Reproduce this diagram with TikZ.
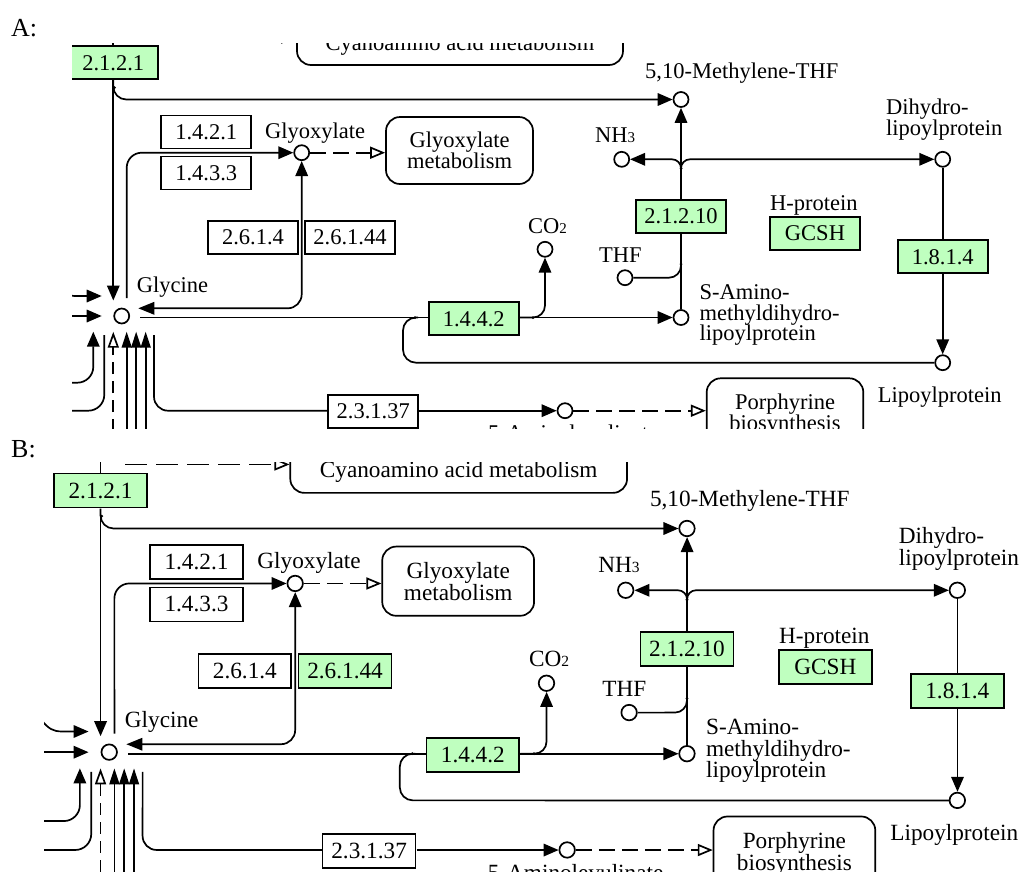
\documentclass[tikz,border=0pt]{standalone}
\usepackage{fontspec}
\setmainfont{Liberation Serif}
\usetikzlibrary{arrows.meta}
\definecolor{keggreen}{RGB}{191,255,191}
\newcommand{\kfs}{\fontsize{22.5}{21}\selectfont}
\newcommand{\ksub}[1]{{\fontsize{15}{15}\selectfont #1}}
\tikzset{
 ln/.style={line width=1.7pt},
 arr/.style={ln, -{Triangle[length=15pt,width=12.5pt]}},
 arrn/.style={ln, -{Triangle[length=16pt,width=10pt]}},
 oarr/.style={ln, dash pattern=on 16pt off 7pt, -{Triangle[open,length=15pt,width=12pt]}},
 ecbox/.style={draw, ln, rectangle, minimum width=90pt, minimum height=33pt, inner sep=0pt, font=\kfs, fill=white},
 ecgreen/.style={ecbox, fill=keggreen},
 cpd/.style={draw, ln, circle, minimum size=15pt, inner sep=0pt, fill=white},
 mapbox/.style={draw, ln, rounded corners=14pt, inner sep=0pt, font=\kfs, align=center, text depth=0pt},
 lbl/.style={inner sep=0pt, font=\kfs, anchor=base west},
 panellbl/.style={inner sep=0pt, font=\fontsize{26}{26}\selectfont, anchor=base west},
 jdot/.style={fill, circle, inner sep=0pt, minimum size=3pt},
}
\newcommand{\kdiagram}[1]{%
 % enzyme boxes
 \node[ecgreen] (e2121) at (113.3,62.8) {2.1.2.1};
 \node[ecbox] (e1421) at (206.2,132) {1.4.2.1};
 \node[ecbox] (e1433) at (206.2,173) {1.4.3.3};
 \node[ecbox] (e2614) at (253,237.3) {2.6.1.4};
 \node[ecbox, fill=#1] (e26144) at (350,237.3) {2.6.1.44};
 \node[ecgreen] (e1442) at (473.7,318.8) {1.4.4.2};
 \node[ecgreen] (e21210) at (681,216.2) {2.1.2.10};
 \node[ecgreen] (gcsh) at (815,233.3) {GCSH};
 \node[ecgreen] (e1814) at (942.7,256.7) {1.8.1.4};
 \node[ecbox] (e23137) at (373.3,411.5) {2.3.1.37};
 % map boxes
 \node[mapbox, minimum width=326pt, minimum height=44.8pt] (cyano) at (460,42.6) {Cyanoamino acid metabolism};
 \node[mapbox, minimum width=147pt, minimum height=67pt] (glymap) at (459.5,150.5) {Glyoxylate\\metabolism};
 \node[mapbox, minimum width=156.6pt, minimum height=67pt] (porph) at (785,411.8) {Porphyrine\\biosynthesis};
 % compounds
 \node[cpd] (gly) at (301.7,152.7) {};
 \node[cpd] (meth) at (681,99.5) {};
 \node[cpd] (nh3) at (621.7,159.3) {};
 \node[cpd] (dihy) at (942.7,159.3) {};
 \node[cpd] (co2) at (545,249.3) {};
 \node[cpd] (thf) at (625,277.7) {};
 \node[cpd] (sam) at (681,317.5) {};
 \node[cpd] (glyc) at (121.7,316) {};
 \node[cpd] (lipo) at (942.7,362.7) {};
 \node[cpd] (ala) at (565,410.7) {};
 % compound labels
 \node[lbl] (tgly) at (265,138) {Glyoxylate};
 \node[lbl] (tmeth) at (645,78) {5,10-Methylene-THF};
 \node[lbl] (tnh3) at (595,142) {NH\ksub{3}};
 \node[lbl] (tdihyA) at (886,114.5) {Dihydro-};
 \node[lbl] (tdihyB) at (886,135.5) {lipoylprotein};
 \node[lbl] (thp) at (770,210.5) {H-protein};
 \node[lbl] (tco2) at (528,233) {CO\ksub{2}};
 \node[lbl] (tthf) at (599,262) {THF};
 \node[lbl] (tsamA) at (699.3,299) {S-Amino-};
 \node[lbl] (tsamB) at (699.3,320) {methyldihydro-};
 \node[lbl] (tsamC) at (699.3,340.5) {lipoylprotein};
 \node[lbl] (tglyc) at (136.7,292) {Glycine};
 \node[lbl] (tlipo) at (877.7,402) {Lipoylprotein};
 \node[lbl] (tala) at (488,440) {5-Aminolevulinate};
 % free ends
 \coordinate (ctop) at (113.3,20);
 \coordinate (g1) at (113.3,300.5);
 \coordinate (g2) at (126.7,298);
 \coordinate (g3) at (138.3,308.3);
 \coordinate (g4) at (140,317.5);
 \coordinate (g5) at (154,335);
 \coordinate (j1) at (681,168.5);
 \coordinate (c1) at (137,37.5);
 \coordinate (la) at (57,286);
 \coordinate (lat) at (101.7,296);
 \coordinate (lb) at (40,316);
 \coordinate (lbt) at (101.7,316);
 \coordinate (ba) at (40,382.7);
 \coordinate (bb) at (40,410.7);
 % connectors
 \draw[ln] (e2121.north) -- (ctop);
 \draw[arr] (e2121.south) -- (g1);
 \draw[arr, rounded corners=13pt] (e2121.south) -- (113.3,99.5) -- (meth.west);
 \draw[arr, rounded corners=15pt] (g2) -- (126.7,152.7) -- (gly.west);
 \draw[ln, {Triangle[length=15pt,width=12.5pt]}-{Triangle[length=16pt,width=12.5pt]}, rounded corners=14pt] (gly.south) -- (301.7,308.3) -- (g3);
 \draw[oarr] (gly.east) -- (glymap.west |- gly);
 \draw[ln, dash pattern=on 22pt off 9pt, -{Triangle[open,length=15pt,width=12pt]}] (c1) -- (cyano.west |- c1);
 \draw[arr] (e21210.north) -- (meth.south);
 \draw[arr, rounded corners=9pt] (j1) -- (681,159.3) -- (nh3.east);
 \draw[arr, rounded corners=9pt] (j1) -- (681,159.3) -- (dihy.west);
 \draw[ln] (e21210.south) -- (sam.north);
 \draw[ln, rounded corners=12pt] (thf.east) -- (681,277.7) -- (681,262);
 \draw[ln] (g4) -- (e1442.west |- g4);
 \draw[arr] (e1442.east |- g4) -- (sam.west);
 \draw[arr, rounded corners=12pt] (e1442.east |- g4) -- (545,317.5) -- (co2.south);
 \draw[ln, rounded corners=13pt] (lipo.west) -- (403,362.7) -- (403,317.5) -- (418,317.5);
 \draw[ln] (dihy.south) -- (e1814.north);
 \draw[arr] (e1814.south) -- (lipo.north);
 \draw[ln, rounded corners=14pt] (g5) -- (154,410.7) -- (e23137.west |- ala);
 \draw[arr] (e23137.east |- ala) -- (ala.west);
 \draw[oarr] (ala.east) -- (porph.west |- ala);
 % junction dots
 \node[jdot] (d1) at (114.5,87.5) {};
 \node[jdot] (d2) at (681,168.5) {};
 \node[jdot] (d3) at (681,264) {};
 \node[jdot] (d4) at (533,317.5) {};
 \node[jdot] (d5) at (415,317.5) {};
 % arrows around glycine
 \draw[arr] (la) .. controls (63,293) and (67,296) .. (76,296) -- (lat);
 \draw[arr] (lb) -- (lbt);
 \draw[arr, rounded corners=16pt] (ba) -- (93.3,382.7) -- (93.3,331.7);
 \draw[ln, rounded corners=16pt] (bb) -- (104.3,410.7) -- (104.3,335);
 \draw[ln, dash pattern=on 12pt off 7pt, -{Triangle[open,length=16pt,width=11pt]}] (113.3,450) -- (113.3,331.7);
 \draw[arrn] (126.7,450) -- (126.7,331.7);
 \draw[arrn] (136.2,450) -- (136.2,331.7);
 \draw[arrn] (145.7,450) -- (145.7,331.7);
}
\begin{document}
\begin{tikzpicture}[x=1pt,y=-1pt]
 \useasboundingbox (0,0) rectangle (1021,871);
 \node[panellbl] (labA) at (11,36.5) {A:};
 \node[panellbl] (labB) at (11,457) {B:};
 \begin{scope}
  \clip (72,43) rectangle (1021,428.5);
  \kdiagram{white}
 \end{scope}
 \begin{scope}
  \clip (44,462) rectangle (1021,871);
  \begin{scope}[shift={(-16.5,425.7)}, scale=1.033, transform shape]
   \kdiagram{keggreen}
  \end{scope}
 \end{scope}
\end{tikzpicture}
\end{document}
